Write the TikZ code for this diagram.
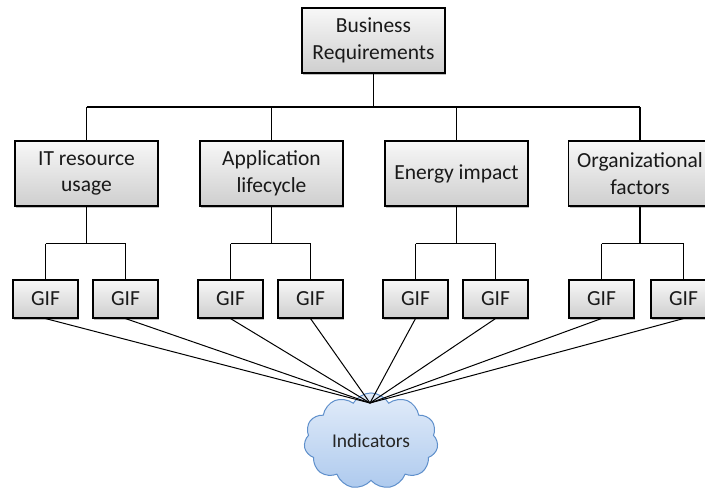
\documentclass[tikz,border=0pt]{standalone}
\usepackage{fontspec}
\setmainfont{Carlito}
\usetikzlibrary{shadows,shapes.symbols}
\definecolor{cloudline}{HTML}{5E8FCB}
\definecolor{cloudtop}{HTML}{E2ECF9}
\definecolor{cloudbot}{HTML}{AECAEE}
\tikzset{
  box/.style={draw=black, line width=1.1pt, top color=gray!6, bottom color=gray!38,
    align=center, font=\fontsize{21.5}{26.5}\selectfont, inner sep=0pt,
    text=black!90,
    drop shadow={shadow xshift=1.2pt, shadow yshift=-1.5pt, opacity=0.25, fill=black}},
  bigbox/.style={box, minimum width=143pt, minimum height=65pt},
  gifbox/.style={box, minimum width=65pt, minimum height=38pt},
  link/.style={draw=black, line width=1.2pt},
  ray/.style={draw=black, line width=1pt}
}
\begin{document}
\begin{tikzpicture}[x=1pt,y=-1pt]
\useasboundingbox (0,0) rectangle (705,488);
\clip (0,0) rectangle (705,488);

% top level
\node[bigbox] (br) at (373.5,40.5) {Business\\Requirements};

% second level
\node[bigbox] (it)  at (86.5,173.5)  {IT resource\\usage};
\node[bigbox] (app) at (271.5,173.5) {Application\\lifecycle};
\node[bigbox] (en)  at (456.5,173.5) {Energy impact};
\node[bigbox] (org) at (640,173.5)   {Organizational\\factors};

% GIF leaves
\node[gifbox] (g1) at (45.5,299)  {GIF};
\node[gifbox] (g2) at (125.5,299) {GIF};
\node[gifbox] (g3) at (230.5,299) {GIF};
\node[gifbox] (g4) at (310.5,299) {GIF};
\node[gifbox] (g5) at (415.5,299) {GIF};
\node[gifbox] (g6) at (495.5,299) {GIF};
\node[gifbox] (g7) at (601.5,299) {GIF};
\node[gifbox] (g8) at (683.5,299) {GIF};

% indicators cloud
\node[cloud, cloud puffs=11, cloud puff arc=120, aspect=1.35,
      draw=cloudline, line width=1pt, top color=cloudtop, bottom color=cloudbot,
      minimum width=134pt, minimum height=96pt, inner sep=0pt,
      font=\fontsize{19.5}{23}\selectfont, text=black!85]
      (ind) at (371,441) {Indicators};
\coordinate (hub) at (370,403);

% tree connectors
\path[link] (br.south) -- ++(0,33.5) coordinate (bus);
\path[link] (it.north |- bus) -- (org.north |- bus);
\foreach \n in {it,app,en,org} \path[link] (\n.north |- bus) -- (\n.north);

\path[link] (it.south)  -- ++(0,37) coordinate (b1);
\path[link] (g1.north |- b1) -- (g2.north |- b1);
\path[link] (app.south) -- ++(0,37) coordinate (b2);
\path[link] (g3.north |- b2) -- (g4.north |- b2);
\path[link] (en.south)  -- ++(0,37) coordinate (b3);
\path[link] (g5.north |- b3) -- (g6.north |- b3);
\path[link] (org.south) -- ++(0,37) coordinate (b4);
\path[link] (g7.north |- b4) -- (g8.north |- b4);
\foreach \g/\b in {g1/b1,g2/b1,g3/b2,g4/b2,g5/b3,g6/b3,g7/b4,g8/b4}
  \path[link] (\g.north |- \b) -- (\g.north);

% rays to the cloud
\foreach \g in {g1,g2,g3,g4,g5,g6,g7,g8}
  \path[ray] (\g.south) -- (hub);
\end{tikzpicture}
\end{document}
